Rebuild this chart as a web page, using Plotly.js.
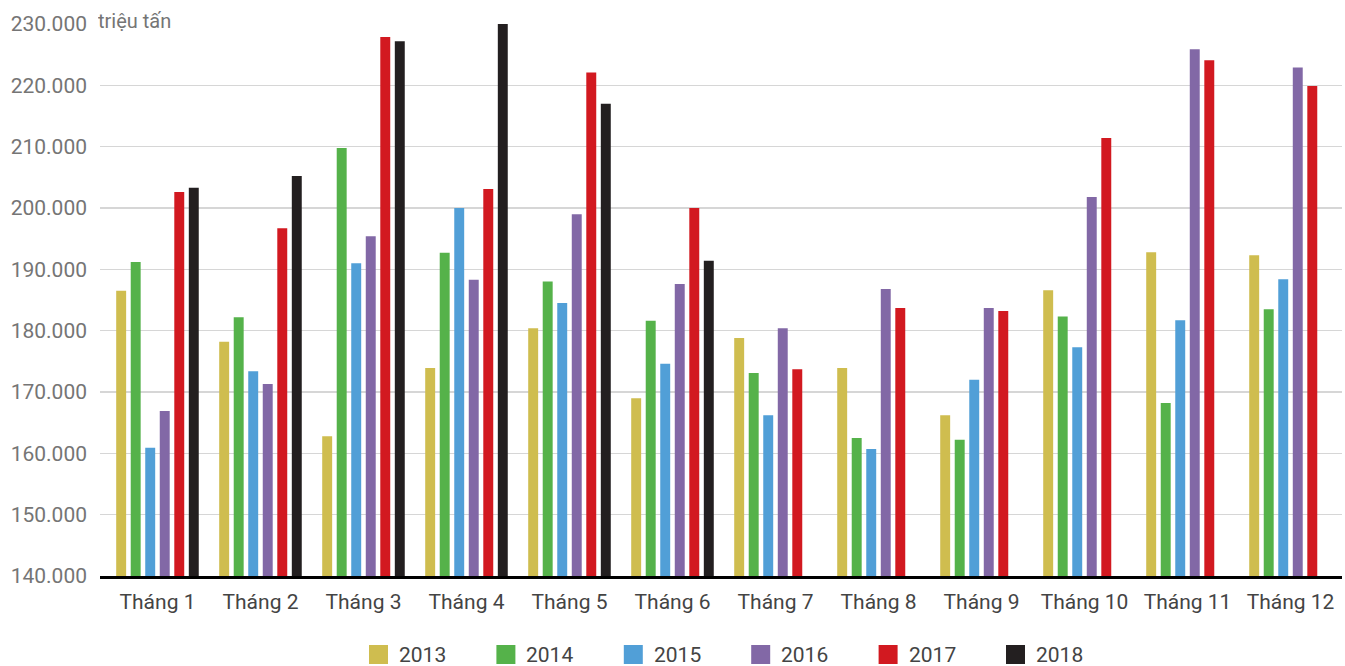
<!DOCTYPE html>
<html>
<head>
<meta charset="utf-8">
<script src="https://cdn.plot.ly/plotly-3.0.1.min.js"></script>
<style>html,body{margin:0;padding:0;background:#fff;}#chart{width:1345px;height:666px;}</style>
</head>
<body>
<div id="chart"></div>
<script>
const months = ['Tháng 1','Tháng 2','Tháng 3','Tháng 4','Tháng 5','Tháng 6','Tháng 7','Tháng 8','Tháng 9','Tháng 10','Tháng 11','Tháng 12'];
const years = ['2013','2014','2015','2016','2017','2018'];
const v2013 = [186500,178200,162800,173900,180400,169000,178800,173900,166200,186600,192800,192300];
const v2014 = [191200,182200,209800,192700,188000,181600,173100,162500,162200,182300,168200,183500];
const v2015 = [160900,173400,191000,200000,184500,174600,166200,160700,172000,177300,181700,188400];
const v2016 = [166900,171300,195400,188300,199000,187600,180400,186800,183700,201800,225900,222900];
const v2017 = [202600,196700,227900,203100,222100,200000,173700,183700,183200,211400,224100,219900];
const v2018 = [203300,205200,227200,230000,217000,191400,null,null,null,null,null,null];
const yTicks = [140000,150000,160000,170000,180000,190000,200000,210000,220000,230000];
const unitLabel = 'triệu tấn';

const series = [v2013,v2014,v2015,v2016,v2017,v2018];
const colors = ['#CFBD4F','#55B24A','#519FD7','#8268A6','#D21920','#231F20'];

const W = 1345, H = 666;
const L = 100, R = 3, T = 24, B = 90;
const pw = W - L - R, ph = H - T - B;
const px2x = p => (p - L) / pw;
const py2y = p => (H - B - p) / ph;

const traces = series.map((vals, i) => ({
  type: 'bar', name: years[i], x: months, y: vals,
  marker: {color: colors[i]}, showlegend: false, hoverinfo: 'x+y+name'
}));

const shapes = [];
const annotations = [{
  xref: 'paper', yref: 'paper', x: px2x(96), y: 1, xanchor: 'left', yanchor: 'middle',
  text: unitLabel, showarrow: false, bgcolor: '#ffffff', width: 88, align: 'left',
  font: {family: 'Roboto, sans-serif', size: 20, color: '#757575'}, yshift: 3
}];
years.forEach((yr, i) => {
  const sx = 369 + 127.4 * i;
  shapes.push({type: 'rect', xref: 'paper', yref: 'paper',
    x0: px2x(sx), x1: px2x(sx + 19), y0: py2y(664), y1: py2y(645),
    fillcolor: colors[i], line: {width: 0}});
  annotations.push({xref: 'paper', yref: 'paper', x: px2x(sx + 28), y: py2y(655),
    xanchor: 'left', yanchor: 'middle', text: yr, showarrow: false,
    font: {family: 'Roboto, sans-serif', size: 21, color: '#444444'}});
});

const layout = {
  width: W, height: H,
  margin: {l: L, r: R, t: T, b: B},
  paper_bgcolor: '#ffffff', plot_bgcolor: '#ffffff',
  separators: ',.',
  barmode: 'group', bargap: 0.154, bargroupgap: 0.315,
  showlegend: false,
  xaxis: {
    type: 'category', range: [-0.558, 11.5],
    showline: true, linecolor: '#000000', linewidth: 3,
    showgrid: false, ticks: '', ticklabelstandoff: 5,
    tickfont: {family: 'Roboto, sans-serif', size: 21, color: '#444444'}
  },
  yaxis: {
    range: [140000, 230000], tickvals: yTicks, tickformat: ',d',
    showgrid: true, gridcolor: '#d6d6d6', gridwidth: 1.5,
    zeroline: false, showline: false, ticks: '', ticklabelstandoff: 12,
    tickfont: {family: 'Roboto, sans-serif', size: 21, color: '#757575'}
  },
  shapes: shapes,
  annotations: annotations
};

Plotly.newPlot('chart', traces, layout, {displayModeBar: false, staticPlot: true});
</script>
</body>
</html>
